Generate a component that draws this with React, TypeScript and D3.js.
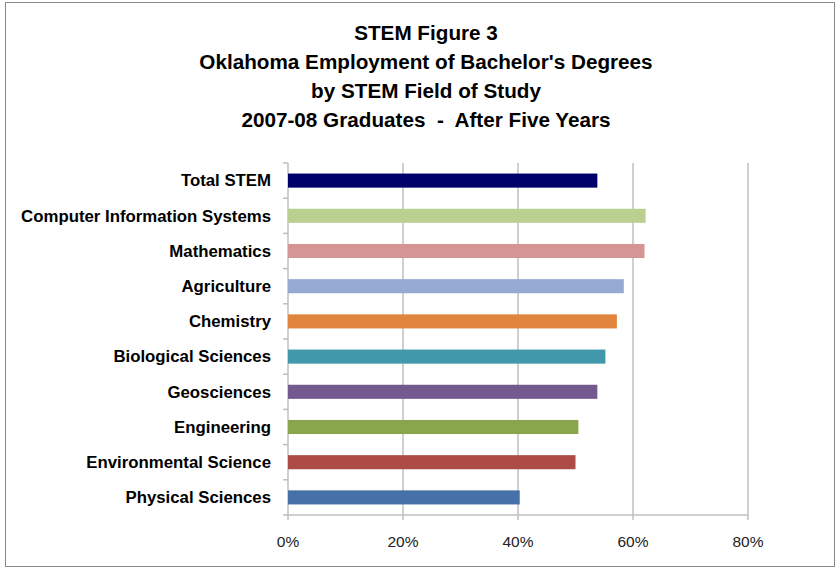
import React from "react";
import * as d3 from "d3";

const categories = [
  "Total STEM",
  "Computer Information Systems",
  "Mathematics",
  "Agriculture",
  "Chemistry",
  "Biological Sciences",
  "Geosciences",
  "Engineering",
  "Environmental Science",
  "Physical Sciences",
];
const values = [0.538, 0.622, 0.62, 0.584, 0.572, 0.552, 0.538, 0.505, 0.5, 0.403];
const colors = [
  "#00006b",
  "#b9d08f",
  "#d59594",
  "#94aad3",
  "#e0843e",
  "#4198ab",
  "#725a8f",
  "#8aa64c",
  "#ad4b47",
  "#4671a8",
];
const xTicks = [0, 0.2, 0.4, 0.6, 0.8];
const titleLines = [
  "STEM Figure 3",
  "Oklahoma Employment of Bachelor's Degrees",
  "by STEM Field of Study",
  "2007-08 Graduates  -  After Five Years",
];

export default function App() {
  const W = 835, H = 568;
  const left = 288, right = 748, top = 163, bottom = 515;
  const x = d3.scaleLinear().domain([0, 0.8]).range([left, right]);
  const y = d3.scaleBand<string>().domain(categories).range([top, bottom]).paddingInner(0.6).paddingOuter(0.3);
  const bandEdges = d3.range(categories.length + 1).map((i) => top + (i * (bottom - top)) / categories.length);
  const font = "'Liberation Sans', Arial, sans-serif";
  return (
    <svg width={W} height={H} style={{ position: "absolute", left: 0, top: 0, background: "#fff" }}>
      <rect x={5.5} y={2.5} width={W - 6} height={H - 4} fill="#fff" stroke="#888" strokeWidth={1} />
      {titleLines.map((t, i) => (
        <text key={i} x={426} y={40 + i * 29} textAnchor="middle" fontFamily={font} fontWeight="bold" fontSize={20.7} fill="#000"
          style={{ whiteSpace: "pre" }}>
          {t}
        </text>
      ))}
      {xTicks.map((t) => (
        <g key={t}>
          {t > 0 && <line x1={x(t)} x2={x(t)} y1={top} y2={bottom} stroke="#bfbfbf" strokeWidth={1.5} />}
          <line x1={x(t)} x2={x(t)} y1={bottom} y2={bottom + 5} stroke="#bfbfbf" strokeWidth={1.5} />
          <text x={x(t)} y={547} textAnchor="middle" fontFamily={font} fontSize={15.5} fill="#222">
            {d3.format(".0%")(t)}
          </text>
        </g>
      ))}
      <line x1={left} x2={right} y1={bottom} y2={bottom} stroke="#bfbfbf" strokeWidth={1.5} />
      <line x1={left} x2={left} y1={top} y2={bottom} stroke="#bfbfbf" strokeWidth={1.5} />
      {bandEdges.map((e, i) => (
        <line key={i} x1={left - 5} x2={left} y1={e} y2={e} stroke="#bfbfbf" strokeWidth={1.5} />
      ))}
      {categories.map((c, i) => (
        <g key={c}>
          <rect x={x(0)} y={y(c)!} width={x(values[i]) - x(0)} height={y.bandwidth()} fill={colors[i]} />
          <text x={271} y={y(c)! + y.bandwidth() / 2} dy="0.35em" textAnchor="end" fontFamily={font} fontWeight="bold" fontSize={16.8} fill="#000">
            {c}
          </text>
        </g>
      ))}
    </svg>
  );
}
